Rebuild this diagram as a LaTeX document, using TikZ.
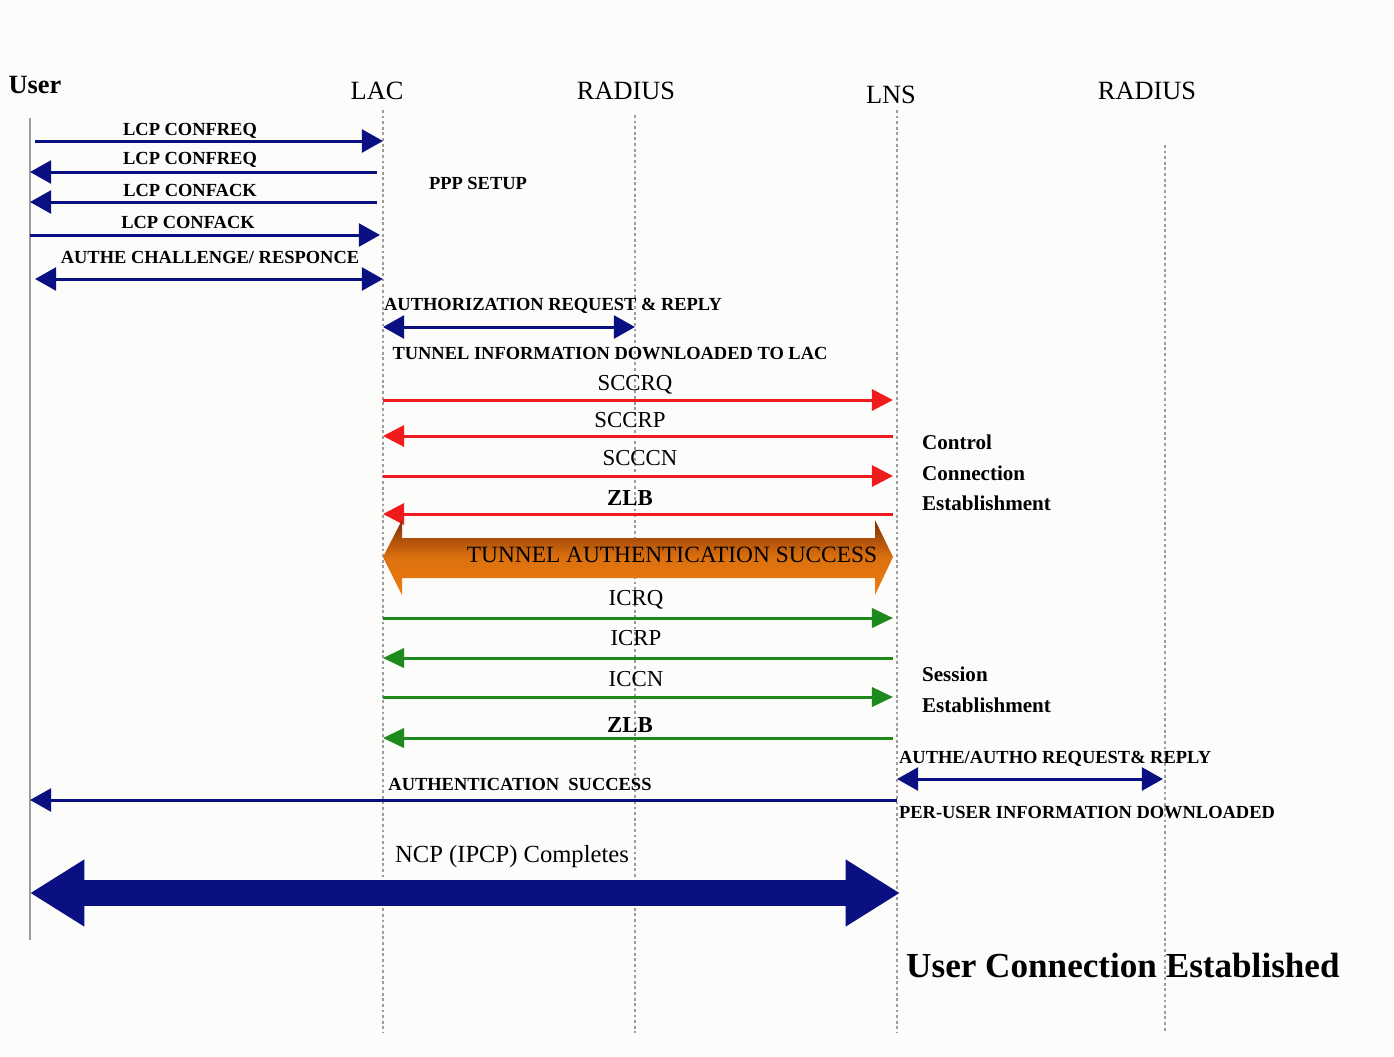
\documentclass[tikz,border=0pt]{standalone}
\usepackage{fontspec}
\setmainfont{Liberation Serif}
\usetikzlibrary{arrows.meta,positioning,calc}
\definecolor{Paper}{HTML}{FCFCFA}
\definecolor{Navy}{HTML}{0A0F82}
\definecolor{Alarm}{HTML}{EE1C1C}
\definecolor{Leaf}{HTML}{1E8A1E}
\definecolor{Rust}{HTML}{7E2E06}
\definecolor{Amber}{HTML}{EC7C10}
\definecolor{Rule}{HTML}{9C9C9C}
\tikzset{
  head/.style={font=\fontsize{15}{17}\selectfont,text=black,inner sep=1pt},
  tag/.style={font=\fontsize{10.5}{12}\selectfont\bfseries,text=black,inner sep=1pt},
  msg/.style={font=\fontsize{13}{15}\selectfont,text=black,inner sep=1pt},
  note/.style={font=\fontsize{12}{17.5}\selectfont\bfseries,align=left,anchor=west,inner sep=1pt},
  life/.style={draw=Rule,line width=1pt,dash pattern=on 1.6pt off 1.6pt},
  userline/.style={draw=Rule,line width=1.2pt},
  navyarr/.style={-{Triangle[length=12pt,width=13pt]},draw=Navy,line width=1.7pt},
  navyboth/.style={{Triangle[length=12pt,width=13pt]}-{Triangle[length=12pt,width=13pt]},draw=Navy,line width=1.7pt},
  redarr/.style={-{Triangle[length=12pt,width=12pt]},draw=Alarm,line width=1.7pt},
  greenarr/.style={-{Triangle[length=12pt,width=11pt]},draw=Leaf,line width=1.7pt},
  bigarr/.style={{Triangle[length=31pt,width=36pt]}-{Triangle[length=31pt,width=36pt]},draw=Navy,line width=14.5pt}
}

\begin{document}
\begin{tikzpicture}[x=0.02cm,y=-0.02cm]
  \useasboundingbox[fill=Paper] (0,0) rectangle (1394,1056);
  % lifelines
  \node[head,font=\fontsize{15}{17}\selectfont\bfseries] (hUser) at (35,85) {User};
  \node[head] (hLac) at (377,91) {LAC};
  \node[head] (hRad1) at (626,91) {RADIUS};
  \node[head] (hLns) at (891,95) {LNS};
  \node[head] (hRad2) at (1147,91) {RADIUS};
  \coordinate (user) at (30,118);
  \coordinate (lac) at (383,110);
  \coordinate (rad1) at (635,115);
  \coordinate (lns) at (897,110);
  \coordinate (rad2) at (1165,145);
  \coordinate (bottom) at (0,1033);
  \draw[userline] (user) -- (user |- 0,940);
  \draw[life] (lac) -- (lac |- bottom);
  \draw[life] (rad1) -- (rad1 |- bottom);
  \draw[life] (lns) -- (lns |- bottom);
  \draw[life] (rad2) -- (rad2 |- bottom);

  % PPP setup
  \coordinate (r1) at (0,141);
  \coordinate (r2) at (0,172);
  \coordinate (r3) at (0,202);
  \coordinate (r4) at (0,235);
  \coordinate (r5) at (0,279);
  \node[tag] (l1) at (190,131) {LCP CONFREQ};
  \node[tag] (l2) at (190,160) {LCP CONFREQ};
  \node[tag] (l3) at (190,190) {LCP CONFACK};
  \node[tag] (l4) at (188,222) {LCP CONFACK};
  \node[tag] (l5) at (210,257) {AUTHE CHALLENGE/ RESPONCE};
  \node[tag] (ppp) at (478,183) {PPP SETUP};
  \draw[navyarr] ($(user |- r1)+(5,0)$) -- (lac |- r1);
  \draw[navyarr] ($(lac |- r2)+(-6,0)$) -- (user |- r2);
  \draw[navyarr] ($(lac |- r3)+(-6,0)$) -- (user |- r3);
  \draw[navyarr] (user |- r4) -- ($(lac |- r4)+(-3,0)$);
  \draw[navyboth] ($(user |- r5)+(5,0)$) -- (lac |- r5);

  % authorization
  \coordinate (r6) at (0,327);
  \node[tag] (l6) at (553,306) {AUTHORIZATION REQUEST \& REPLY};
  \draw[navyboth] (lac |- r6) -- (rad1 |- r6);
  \node[tag] (l7) at (610,354) {TUNNEL INFORMATION DOWNLOADED TO LAC};

  % control connection
  \coordinate (r7) at (0,400);
  \coordinate (r8) at (0,436);
  \coordinate (r9) at (0,476);
  \coordinate (r10) at (0,514);
  \node[msg] (sccrq) at (635,385) {SCCRQ};
  \node[msg] (sccrp) at (630,420) {SCCRP};
  \node[msg] (scccn) at (640,458) {SCCCN};
  \node[msg,font=\fontsize{13}{15}\selectfont\bfseries] (zlb1) at (630,498) {ZLB};
  \draw[redarr] (lac |- r7) -- ($(lns |- r7)+(-4,0)$);
  \draw[redarr] ($(lns |- r8)+(-4,0)$) -- (lac |- r8);
  \draw[redarr] (lac |- r9) -- ($(lns |- r9)+(-4,0)$);
  \draw[redarr] ($(lns |- r10)+(-4,0)$) -- (lac |- r10);
  \node[note] (ctrl) at (920,473) {Control\\Connection\\Establishment};

  % tunnel authentication
  \coordinate (ta) at (0,557);
  \shade[top color=Rust,bottom color=Amber,middle color=Amber!85!Rust]
    (lac |- ta) -- ++(19,-37) -- ++(0,18) -- ($(lns |- ta)+(-22,-19)$) -- ++(0,-18)
    -- ($(lns |- ta)+(-4,0)$) -- ++(-18,38) -- ++(0,-17) -- ($(lac |- ta)+(19,21)$) -- ++(0,17) -- cycle;
  \node[font=\fontsize{13.3}{15}\selectfont,text=black] (tas) at (672,555) {TUNNEL AUTHENTICATION SUCCESS};

  % session
  \coordinate (r11) at (0,618);
  \coordinate (r12) at (0,658);
  \coordinate (r13) at (0,697);
  \coordinate (r14) at (0,738);
  \node[msg] (icrq) at (636,600) {ICRQ};
  \node[msg] (icrp) at (636,638) {ICRP};
  \node[msg] (iccn) at (636,679) {ICCN};
  \node[msg,font=\fontsize{13}{15}\selectfont\bfseries] (zlb2) at (630,725) {ZLB};
  \draw[greenarr] (lac |- r11) -- ($(lns |- r11)+(-4,0)$);
  \draw[greenarr] ($(lns |- r12)+(-4,0)$) -- (lac |- r12);
  \draw[greenarr] (lac |- r13) -- ($(lns |- r13)+(-4,0)$);
  \draw[greenarr] ($(lns |- r14)+(-4,0)$) -- (lac |- r14);
  \node[note] (sess) at (920,690) {Session\\Establishment};

  % user authentication
  \coordinate (r15) at (0,779);
  \coordinate (r16) at (0,800);
  \node[tag,anchor=west] (l8) at (897,759) {AUTHE/AUTHO REQUEST\& REPLY};
  \draw[navyboth] (lns |- r15) -- ($(rad2 |- r15)+(-2,0)$);
  \node[tag] (l9) at (520,784) {AUTHENTICATION \ SUCCESS};
  \draw[navyarr] (lns |- r16) -- (user |- r16);
  \node[tag,anchor=west] (l10) at (897,813) {PER-USER INFORMATION DOWNLOADED};

  % NCP
  \coordinate (r17) at (0,893);
  \node[font=\fontsize{14}{16}\selectfont] (ncp) at (512,857) {NCP (IPCP) Completes};
  \draw[bigarr] (user |- r17) -- ($(lns |- r17)+(3,0)$);
  \node[font=\fontsize{20}{24}\selectfont\bfseries,anchor=west] (done) at (900,965) {User Connection Established};
\end{tikzpicture}
\end{document}
